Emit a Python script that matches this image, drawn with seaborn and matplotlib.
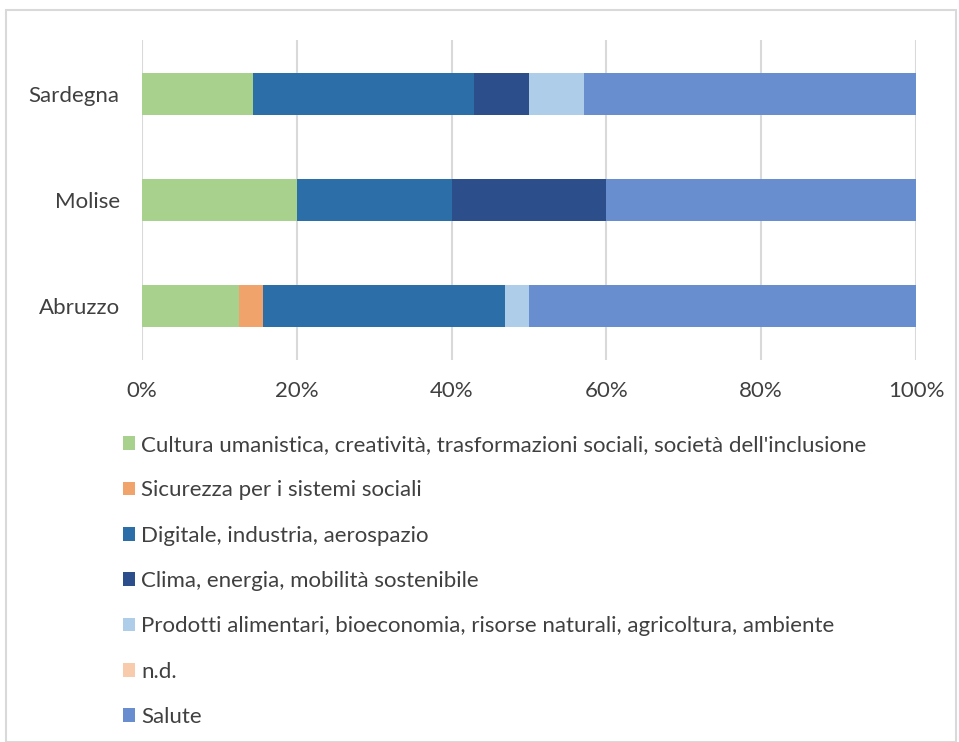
import numpy as np
import pandas as pd
import seaborn as sns
import matplotlib.pyplot as plt
from matplotlib.patches import Patch, Rectangle

# Regions (top to bottom) and share of projects per area (%)
regions = ["Sardegna", "Molise", "Abruzzo"]
categories = [
    "Cultura umanistica, creatività, trasformazioni sociali, società dell'inclusione",
    "Sicurezza per i sistemi sociali",
    "Digitale, industria, aerospazio",
    "Clima, energia, mobilità sostenibile",
    "Prodotti alimentari, bioeconomia, risorse naturali, agricoltura, ambiente",
    "n.d.",
    "Salute",
]
cultura = [14.3, 20.0, 12.5]
sicurezza = [0.0, 0.0, 3.1]
digitale = [28.6, 20.0, 31.3]
clima = [7.1, 20.0, 0.0]
prodotti = [7.1, 0.0, 3.1]
nd = [0.0, 0.0, 0.0]
salute = [42.9, 40.0, 50.0]

colors = ["#A9D18E", "#F0A46C", "#2C6EA8", "#2C4F8C", "#ADCDE9", "#F8CBAD", "#698ED0"]

sns.set_theme(style="white")
plt.rcParams["font.family"] = ["Lato", "DejaVu Sans"]

df = pd.DataFrame(
    np.array([cultura, sicurezza, digitale, clima, prodotti, nd, salute]).T,
    index=regions, columns=categories,
)
cum = df.cumsum(axis=1)

fig = plt.figure(figsize=(9.59, 7.42), dpi=100)
ax = fig.add_axes([142 / 959, 1 - 360 / 742, (916 - 142) / 959, 320 / 742])

# draw cumulative bars from the longest to the shortest so they stack visually
for cat, col in reversed(list(zip(categories, colors))):
    sns.barplot(x=cum[cat].values, y=regions, order=regions, orient="h",
                color=col, width=0.4, ax=ax, saturation=1, linewidth=0)

ax.set_xlim(0, 100)
ax.set_ylim(2.51, -0.51)
ax.set_xticks(range(0, 101, 20))
ax.set_xticklabels([f"{v}%" for v in range(0, 101, 20)])
ax.xaxis.grid(True, color="#D9D9D9", linewidth=1.5)
ax.set_axisbelow(True)
for s in ax.spines.values():
    s.set_visible(False)
ax.tick_params(axis="x", length=0, pad=15, labelsize=16, labelcolor="#404040")
ax.tick_params(axis="y", length=0, pad=16, labelsize=16, labelcolor="#404040")
ax.set_xlabel("")
ax.set_ylabel("")

handles = [Patch(facecolor=c, edgecolor="none") for c in colors]
fig.legend(handles, categories, loc="upper left", bbox_to_anchor=(103 / 959, 1 - 415 / 742),
           frameon=False, fontsize=16, labelspacing=1.14, handlelength=0.55, handleheight=0.55,
           handletextpad=0.28, labelcolor="#404040")

# outer chart frame
fig.patches.append(Rectangle((6 / 959, 0), 950 / 959, 1 - 10 / 742, transform=fig.transFigure,
                             fill=False, edgecolor="#D9D9D9", linewidth=1.5))

fig.savefig("out.png", dpi=100)
